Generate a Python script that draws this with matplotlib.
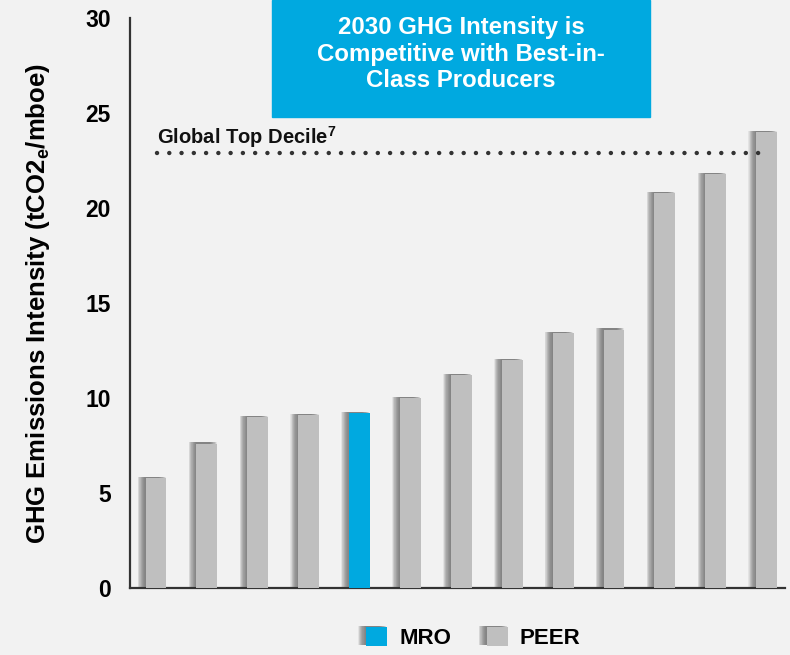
import matplotlib.pyplot as plt
import matplotlib.patheffects as pe
from matplotlib.patches import Patch

# Дані
companies = ['P1', 'P2', 'P3', 'P4', 'MRO', 'P6', 'P7', 'P8', 'P9', 'P10', 'P11', 'P12', 'P13']
intensity = [5.8, 7.6, 9.0, 9.1, 9.2, 10.0, 11.2, 12.0, 13.4, 13.6, 20.8, 21.8, 24.0]
top_decile = 22.9
yticks = [0, 5, 10, 15, 20, 25, 30]

bg = '#F2F2F2'
cyan = '#00A9E0'
grey = '#BFBFBF'

plt.rcParams['font.family'] = ['Liberation Sans', 'DejaVu Sans']
plt.rcParams['font.weight'] = 'bold'
plt.rcParams['mathtext.fontset'] = 'custom'
plt.rcParams['mathtext.bf'] = 'Liberation Sans:bold'
plt.rcParams['mathtext.rm'] = 'Liberation Sans:bold'

fig = plt.figure(figsize=(7.9, 6.55), dpi=100, facecolor=bg)
ax = fig.add_axes([0.1646, 0.1023, 0.829, 0.8702], facecolor=bg)

# Розмита тінь зліва від стовпців (багато шарів для плавного переходу)
offsets = [0.4 * k for k in range(1, 15)]
shadow = [pe.SimplePatchShadow(offset=(-d, 0.9), shadow_rgbFace='#6e6e6e', alpha=0.11)
          for d in offsets] + [pe.Normal()]

x = list(range(len(companies)))
colors = [cyan if c == 'MRO' else grey for c in companies]
bars = ax.bar(x, intensity, width=0.41, color=colors, zorder=3)
for b in bars:
    b.set_path_effects(shadow)

# Лінія глобального топ-децилю
ax.plot([0.02, 11.87], [top_decile, top_decile], color='#333333', lw=3.2,
        linestyle=(0, (0.01, 2.75)), dash_capstyle='round', zorder=4)
ax.text(0.02, top_decile + 0.15, 'Global Top Decile$^{\\mathbf{7}}$', fontsize=14.5,
        fontweight='bold', va='bottom', ha='left', color='#111111')

ax.set_xlim(-0.51, 12.36)
ax.set_ylim(0, 30)
ax.set_yticks(yticks)
ax.set_xticks([])
ax.tick_params(axis='y', length=0, pad=14, labelsize=16.5)
for lab in ax.get_yticklabels():
    lab.set_fontweight('bold')

for s in ['top', 'right']:
    ax.spines[s].set_visible(False)
for s in ['left', 'bottom']:
    ax.spines[s].set_color('#333333')
    ax.spines[s].set_linewidth(1.6)

ax.set_ylabel('GHG Emissions Intensity (tCO2$_\\mathbf{e}$/mboe)', fontsize=18.5,
              fontweight='bold')
ax.yaxis.set_label_coords(-0.119, 0.5)

# Блакитний блок з заголовком
fig.patches.append(plt.Rectangle((272 / 790, 1 - 117 / 655), 378 / 790, 117 / 655,
                                 transform=fig.transFigure, color=cyan, zorder=5))
fig.text(461 / 790, 1 - 54 / 655, '2030 GHG Intensity is\nCompetitive with Best-in-\nClass Producers',
         ha='center', va='center', color='white', fontsize=17.3, fontweight='bold',
         linespacing=1.2, zorder=6)

# Легенда
handles = [Patch(facecolor=cyan, label='MRO'), Patch(facecolor=grey, label='PEER')]
for h in handles:
    h.set_path_effects(shadow)
fig.legend(handles=handles, loc='center', bbox_to_anchor=(0.599, 1 - 638 / 655), ncol=2,
           frameon=False, handlelength=0.95, handleheight=0.95,
           columnspacing=1.6, handletextpad=0.55, prop={'weight': 'bold', 'size': 16})

fig.savefig('out.png', dpi=100, facecolor=bg)
